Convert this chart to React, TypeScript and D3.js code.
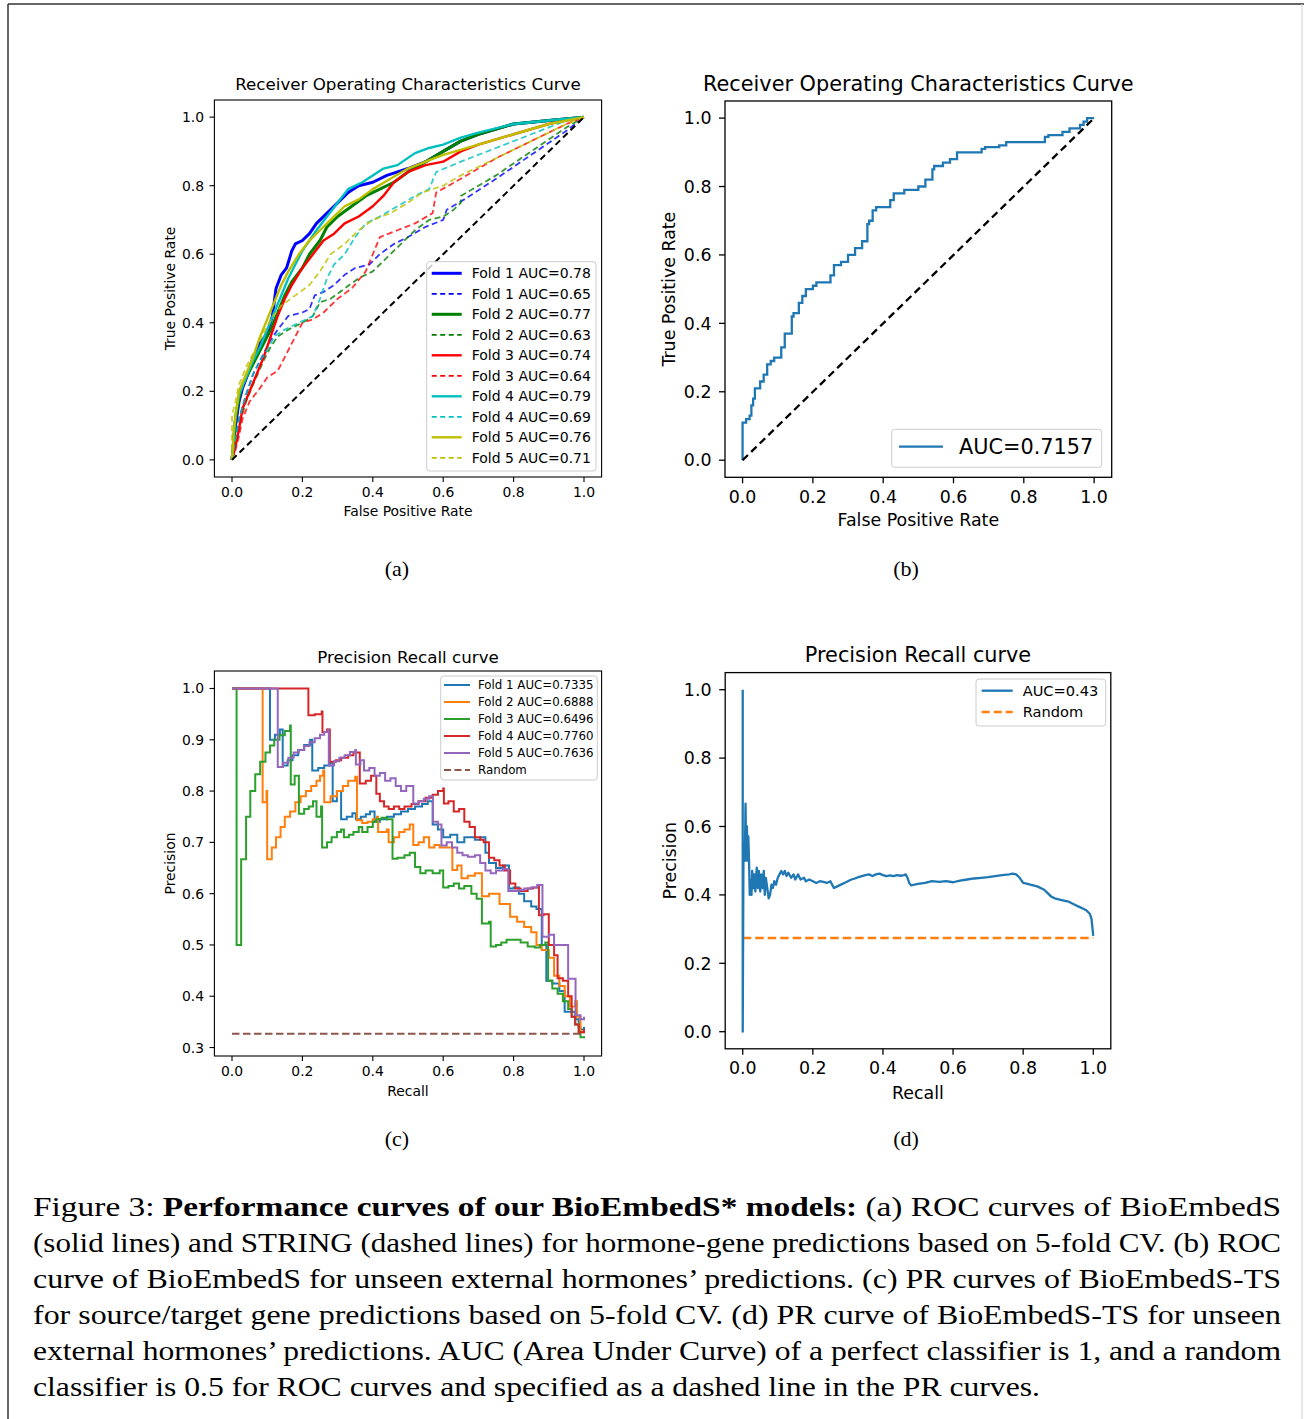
import React from 'react';
import * as d3 from 'd3';

type Pt = [number, number];

const SANS = 'DejaVu Sans, sans-serif';
const SERIF = 'Liberation Serif, serif';

// ---------- (a) ROC, 5-fold CV (solid = BioEmbedS, dashed = STRING) ----------
const rocLabels = [
  'Fold 1 AUC=0.78', 'Fold 1 AUC=0.65', 'Fold 2 AUC=0.77', 'Fold 2 AUC=0.63',
  'Fold 3 AUC=0.74', 'Fold 3 AUC=0.64', 'Fold 4 AUC=0.79', 'Fold 4 AUC=0.69',
  'Fold 5 AUC=0.76', 'Fold 5 AUC=0.71',
];
const rocColors = ['#0000ff', '#0000ff', '#008000', '#008000', '#ff0000', '#ff0000', '#00bfbf', '#00bfbf', '#bfbf00', '#bfbf00'];

const rocF1Solid: Pt[] = [[0,0],[0.005,0.05],[0.01,0.1],[0.02,0.17],[0.03,0.21],[0.045,0.25],[0.06,0.3],[0.08,0.34],[0.1,0.37],[0.115,0.42],[0.125,0.5],[0.14,0.54],[0.155,0.56],[0.17,0.61],[0.18,0.63],[0.2,0.64],[0.22,0.66],[0.24,0.69],[0.27,0.72],[0.3,0.75],[0.33,0.78],[0.36,0.8],[0.4,0.81],[0.44,0.83],[0.5,0.85],[0.55,0.87],[0.6,0.9],[0.65,0.93],[0.7,0.95],[0.8,0.98],[0.9,0.99],[1,1]];
const rocF1Dash: Pt[] = [[0,0],[0.01,0.06],[0.02,0.12],[0.04,0.19],[0.06,0.25],[0.09,0.31],[0.11,0.35],[0.13,0.38],[0.16,0.42],[0.2,0.43],[0.22,0.44],[0.235,0.48],[0.26,0.49],[0.29,0.51],[0.32,0.54],[0.35,0.56],[0.39,0.57],[0.42,0.6],[0.46,0.63],[0.5,0.65],[0.55,0.68],[0.6,0.7],[0.61,0.73],[0.66,0.76],[0.75,0.82],[0.85,0.89],[0.95,0.96],[1,1]];
const rocF2Solid: Pt[] = [[0,0],[0.005,0.06],[0.01,0.12],[0.02,0.18],[0.03,0.22],[0.05,0.26],[0.07,0.3],[0.09,0.34],[0.11,0.38],[0.13,0.43],[0.15,0.48],[0.17,0.52],[0.2,0.56],[0.22,0.6],[0.25,0.64],[0.27,0.68],[0.3,0.71],[0.34,0.74],[0.38,0.77],[0.42,0.79],[0.46,0.81],[0.5,0.84],[0.55,0.87],[0.6,0.9],[0.65,0.93],[0.7,0.95],[0.8,0.98],[0.9,0.99],[1,1]];
const rocF2Dash: Pt[] = [[0,0],[0.01,0.05],[0.02,0.1],[0.04,0.17],[0.06,0.22],[0.09,0.29],[0.11,0.33],[0.13,0.36],[0.16,0.38],[0.2,0.4],[0.23,0.42],[0.25,0.46],[0.28,0.47],[0.32,0.5],[0.36,0.53],[0.4,0.55],[0.44,0.59],[0.48,0.63],[0.52,0.67],[0.56,0.7],[0.6,0.71],[0.63,0.73],[0.65,0.75],[0.65,0.77],[0.75,0.83],[0.85,0.9],[0.95,0.97],[1,1]];
const rocF3Solid: Pt[] = [[0,0],[0.01,0.04],[0.02,0.09],[0.03,0.15],[0.05,0.2],[0.07,0.25],[0.09,0.3],[0.11,0.36],[0.13,0.42],[0.15,0.47],[0.17,0.51],[0.2,0.56],[0.23,0.6],[0.26,0.64],[0.29,0.66],[0.32,0.69],[0.36,0.71],[0.4,0.74],[0.43,0.77],[0.46,0.81],[0.5,0.84],[0.55,0.86],[0.6,0.87],[0.65,0.9],[0.7,0.92],[0.8,0.95],[0.9,0.98],[1,1]];
const rocF3Dash: Pt[] = [[0,0],[0.01,0.03],[0.02,0.07],[0.03,0.12],[0.05,0.17],[0.08,0.21],[0.1,0.24],[0.13,0.26],[0.15,0.3],[0.18,0.36],[0.2,0.4],[0.23,0.41],[0.26,0.43],[0.3,0.47],[0.34,0.5],[0.38,0.55],[0.4,0.6],[0.42,0.65],[0.47,0.67],[0.52,0.69],[0.57,0.72],[0.58,0.78],[0.65,0.82],[0.75,0.88],[0.85,0.93],[0.95,0.98],[1,1]];
const rocF4Solid: Pt[] = [[0,0],[0.005,0.07],[0.01,0.13],[0.02,0.19],[0.04,0.24],[0.06,0.29],[0.08,0.33],[0.1,0.38],[0.12,0.43],[0.14,0.48],[0.16,0.53],[0.18,0.57],[0.2,0.61],[0.22,0.64],[0.24,0.67],[0.27,0.71],[0.3,0.75],[0.33,0.79],[0.37,0.81],[0.4,0.83],[0.43,0.85],[0.47,0.86],[0.52,0.895],[0.56,0.91],[0.6,0.92],[0.65,0.94],[0.7,0.955],[0.8,0.98],[0.9,0.99],[1,1]];
const rocF4Dash: Pt[] = [[0,0],[0.01,0.06],[0.02,0.12],[0.04,0.19],[0.06,0.25],[0.08,0.29],[0.1,0.32],[0.12,0.36],[0.15,0.38],[0.19,0.4],[0.23,0.42],[0.25,0.47],[0.27,0.53],[0.29,0.57],[0.32,0.6],[0.35,0.65],[0.38,0.69],[0.42,0.71],[0.47,0.74],[0.52,0.77],[0.56,0.79],[0.58,0.84],[0.65,0.87],[0.75,0.91],[0.85,0.95],[0.95,0.99],[1,1]];
const rocF5Solid: Pt[] = [[0,0],[0.005,0.08],[0.01,0.13],[0.02,0.2],[0.04,0.25],[0.06,0.3],[0.08,0.36],[0.1,0.41],[0.12,0.46],[0.14,0.51],[0.16,0.55],[0.19,0.6],[0.22,0.64],[0.25,0.67],[0.28,0.7],[0.32,0.74],[0.36,0.76],[0.4,0.79],[0.45,0.82],[0.5,0.85],[0.55,0.87],[0.6,0.89],[0.7,0.92],[0.8,0.95],[0.9,0.98],[1,1]];
const rocF5Dash: Pt[] = [[0,0],[0,0.13],[0.01,0.17],[0.02,0.22],[0.04,0.27],[0.06,0.31],[0.08,0.35],[0.11,0.41],[0.14,0.45],[0.18,0.48],[0.22,0.51],[0.25,0.55],[0.28,0.6],[0.32,0.63],[0.36,0.67],[0.4,0.7],[0.45,0.72],[0.5,0.75],[0.54,0.78],[0.6,0.8],[0.65,0.83],[0.75,0.88],[0.85,0.93],[0.95,0.98],[1,1]];
const rocCurves = [rocF1Solid, rocF1Dash, rocF2Solid, rocF2Dash, rocF3Solid, rocF3Dash, rocF4Solid, rocF4Dash, rocF5Solid, rocF5Dash];

// ---------- (b) ROC, unseen hormones ----------
const rocUnseenLabel = 'AUC=0.7157';
const rocUnseen: Pt[] = [[0,0],[0,0.03],[0.01,0.11],[0.02,0.12],[0.025,0.13],[0.03,0.16],[0.035,0.18],[0.04,0.21],[0.05,0.21],[0.06,0.23],[0.07,0.25],[0.08,0.28],[0.09,0.29],[0.11,0.3],[0.12,0.33],[0.13,0.37],[0.14,0.37],[0.145,0.42],[0.16,0.43],[0.17,0.46],[0.18,0.48],[0.2,0.5],[0.21,0.51],[0.25,0.52],[0.26,0.54],[0.28,0.57],[0.3,0.58],[0.32,0.6],[0.34,0.62],[0.355,0.64],[0.36,0.69],[0.37,0.7],[0.38,0.73],[0.42,0.74],[0.43,0.76],[0.46,0.78],[0.5,0.79],[0.52,0.8],[0.54,0.82],[0.545,0.85],[0.57,0.86],[0.59,0.87],[0.61,0.88],[0.62,0.9],[0.68,0.9],[0.69,0.91],[0.73,0.915],[0.75,0.92],[0.79,0.93],[0.86,0.93],[0.87,0.945],[0.91,0.95],[0.93,0.96],[0.96,0.97],[0.97,0.98],[0.98,0.99],[0.99,1],[1,1]];

// ---------- (c) PR, 5-fold CV ----------
const prLabels = ['Fold 1 AUC=0.7335', 'Fold 2 AUC=0.6888', 'Fold 3 AUC=0.6496', 'Fold 4 AUC=0.7760', 'Fold 5 AUC=0.7636', 'Random'];
const prColors = ['#1f77b4', '#ff7f0e', '#2ca02c', '#d62728', '#9467bd', '#8c564b'];
const prRandomLevel = 0.327;

const prFold1: Pt[] = [[0,1],[0.108,0.9],[0.122,0.91],[0.136,0.92],[0.144,0.85],[0.158,0.86],[0.172,0.87],[0.188,0.88],[0.205,0.89],[0.222,0.9],[0.228,0.84],[0.245,0.845],[0.262,0.85],[0.278,0.855],[0.286,0.78],[0.298,0.8],[0.31,0.745],[0.326,0.75],[0.342,0.757],[0.352,0.745],[0.366,0.75],[0.38,0.755],[0.392,0.76],[0.405,0.74],[0.42,0.745],[0.44,0.75],[0.46,0.755],[0.48,0.76],[0.5,0.765],[0.52,0.77],[0.54,0.775],[0.556,0.78],[0.57,0.735],[0.585,0.725],[0.6,0.71],[0.62,0.715],[0.64,0.7],[0.66,0.71],[0.69,0.705],[0.705,0.71],[0.72,0.68],[0.73,0.66],[0.75,0.65],[0.77,0.655],[0.787,0.61],[0.8,0.612],[0.815,0.6],[0.83,0.585],[0.85,0.575],[0.865,0.57],[0.88,0.5],[0.893,0.43],[0.91,0.425],[0.93,0.41],[0.945,0.37],[0.96,0.37],[0.975,0.355],[0.985,0.34],[0.99,0.335],[1,0.34]];
const prFold2: Pt[] = [[0,1],[0.087,0.778],[0.098,0.8],[0.1,0.667],[0.113,0.69],[0.125,0.71],[0.138,0.73],[0.15,0.75],[0.165,0.76],[0.18,0.778],[0.195,0.79],[0.21,0.8],[0.225,0.81],[0.24,0.82],[0.25,0.83],[0.259,0.84],[0.262,0.778],[0.28,0.79],[0.298,0.8],[0.315,0.81],[0.33,0.82],[0.35,0.828],[0.355,0.743],[0.37,0.738],[0.385,0.74],[0.4,0.745],[0.412,0.75],[0.415,0.72],[0.43,0.72],[0.44,0.725],[0.445,0.7],[0.46,0.71],[0.475,0.72],[0.49,0.725],[0.505,0.735],[0.515,0.695],[0.53,0.7],[0.545,0.71],[0.56,0.69],[0.575,0.695],[0.59,0.69],[0.61,0.69],[0.626,0.646],[0.64,0.655],[0.652,0.63],[0.67,0.635],[0.69,0.64],[0.71,0.595],[0.73,0.6],[0.75,0.6],[0.76,0.58],[0.78,0.58],[0.79,0.555],[0.81,0.545],[0.83,0.535],[0.85,0.525],[0.865,0.5],[0.88,0.49],[0.9,0.475],[0.915,0.44],[0.93,0.42],[0.945,0.4],[0.96,0.38],[0.975,0.39],[0.98,0.36],[0.99,0.33],[1,0.336]];
const prFold3: Pt[] = [[0,1],[0.013,0.5],[0.026,0.667],[0.04,0.75],[0.052,0.8],[0.066,0.833],[0.08,0.857],[0.095,0.875],[0.108,0.889],[0.12,0.9],[0.135,0.909],[0.15,0.917],[0.165,0.928],[0.167,0.813],[0.178,0.83],[0.19,0.756],[0.205,0.765],[0.218,0.77],[0.23,0.78],[0.24,0.75],[0.253,0.77],[0.256,0.69],[0.27,0.7],[0.283,0.71],[0.298,0.72],[0.31,0.725],[0.318,0.71],[0.332,0.715],[0.345,0.72],[0.36,0.73],[0.37,0.72],[0.385,0.73],[0.4,0.74],[0.41,0.745],[0.425,0.748],[0.44,0.745],[0.456,0.668],[0.47,0.67],[0.49,0.675],[0.505,0.68],[0.52,0.652],[0.535,0.64],[0.55,0.645],[0.57,0.64],[0.59,0.645],[0.6,0.612],[0.615,0.615],[0.63,0.62],[0.645,0.61],[0.66,0.615],[0.68,0.6],[0.695,0.59],[0.71,0.542],[0.73,0.545],[0.735,0.497],[0.75,0.5],[0.765,0.505],[0.78,0.51],[0.8,0.51],[0.82,0.505],[0.84,0.497],[0.86,0.495],[0.875,0.5],[0.89,0.505],[0.898,0.43],[0.91,0.415],[0.925,0.405],[0.94,0.39],[0.955,0.375],[0.965,0.36],[0.975,0.345],[0.985,0.33],[0.99,0.32],[1,0.318]];
const prFold4: Pt[] = [[0,1],[0.217,0.948],[0.235,0.95],[0.255,0.955],[0.257,0.915],[0.27,0.92],[0.278,0.857],[0.295,0.86],[0.31,0.865],[0.33,0.87],[0.345,0.875],[0.363,0.815],[0.38,0.82],[0.395,0.83],[0.41,0.795],[0.42,0.78],[0.432,0.77],[0.445,0.765],[0.46,0.77],[0.475,0.765],[0.49,0.77],[0.51,0.775],[0.53,0.78],[0.55,0.787],[0.57,0.793],[0.585,0.8],[0.6,0.805],[0.602,0.776],[0.615,0.78],[0.63,0.76],[0.645,0.765],[0.66,0.74],[0.675,0.73],[0.69,0.71],[0.705,0.705],[0.715,0.7],[0.73,0.67],[0.745,0.665],[0.76,0.655],[0.775,0.645],[0.79,0.62],[0.805,0.61],[0.82,0.605],[0.84,0.61],[0.855,0.612],[0.87,0.615],[0.872,0.558],[0.885,0.56],[0.9,0.5],[0.915,0.48],[0.925,0.435],[0.94,0.43],[0.955,0.4],[0.965,0.36],[0.975,0.345],[0.985,0.33],[1,0.336]];
const prFold5: Pt[] = [[0,1],[0.13,0.847],[0.145,0.855],[0.16,0.865],[0.175,0.875],[0.19,0.88],[0.205,0.888],[0.22,0.895],[0.235,0.903],[0.25,0.91],[0.262,0.915],[0.273,0.92],[0.275,0.85],[0.29,0.858],[0.305,0.865],[0.32,0.87],[0.335,0.876],[0.35,0.88],[0.352,0.852],[0.365,0.86],[0.375,0.84],[0.39,0.845],[0.405,0.83],[0.42,0.835],[0.435,0.82],[0.45,0.825],[0.465,0.81],[0.48,0.8],[0.495,0.81],[0.515,0.776],[0.53,0.78],[0.545,0.785],[0.56,0.79],[0.571,0.74],[0.585,0.735],[0.595,0.694],[0.61,0.7],[0.625,0.69],[0.64,0.68],[0.655,0.675],[0.67,0.672],[0.69,0.675],[0.705,0.66],[0.72,0.645],[0.735,0.64],[0.75,0.645],[0.77,0.648],[0.785,0.605],[0.8,0.605],[0.815,0.607],[0.83,0.61],[0.85,0.612],[0.867,0.617],[0.882,0.516],[0.9,0.52],[0.915,0.5],[0.935,0.5],[0.955,0.434],[0.976,0.363],[0.99,0.355],[1,0.36]];
const prCurves = [prFold1, prFold2, prFold3, prFold4, prFold5];

// ---------- (d) PR, unseen hormones ----------
const prUnseenLabels = ['AUC=0.43', 'Random'];
const prUnseenRandom = 0.274;
const prUnseen: Pt[] = [[0,1],[0,0],[0.002,0.5],[0.006,0.5],[0.008,0.667],[0.01,0.5],[0.012,0.6],[0.014,0.5],[0.016,0.571],[0.018,0.5],[0.02,0.4],[0.022,0.444],[0.025,0.4],[0.027,0.47],[0.03,0.42],[0.033,0.46],[0.036,0.41],[0.04,0.48],[0.043,0.42],[0.046,0.47],[0.05,0.41],[0.053,0.46],[0.057,0.42],[0.06,0.47],[0.063,0.4],[0.066,0.45],[0.07,0.42],[0.074,0.39],[0.078,0.4],[0.082,0.43],[0.086,0.42],[0.09,0.44],[0.095,0.43],[0.1,0.45],[0.105,0.46],[0.11,0.47],[0.115,0.46],[0.12,0.47],[0.125,0.455],[0.13,0.465],[0.138,0.45],[0.145,0.46],[0.15,0.445],[0.158,0.46],[0.165,0.445],[0.175,0.45],[0.18,0.44],[0.19,0.445],[0.2,0.44],[0.21,0.435],[0.22,0.44],[0.23,0.438],[0.24,0.435],[0.25,0.44],[0.255,0.43],[0.26,0.42],[0.27,0.425],[0.28,0.43],[0.29,0.435],[0.3,0.44],[0.31,0.445],[0.32,0.448],[0.33,0.452],[0.34,0.455],[0.35,0.458],[0.36,0.46],[0.37,0.455],[0.38,0.46],[0.39,0.462],[0.4,0.458],[0.41,0.455],[0.42,0.457],[0.43,0.455],[0.44,0.458],[0.45,0.456],[0.46,0.458],[0.465,0.46],[0.47,0.45],[0.475,0.435],[0.48,0.428],[0.5,0.432],[0.52,0.435],[0.54,0.44],[0.56,0.438],[0.58,0.44],[0.6,0.437],[0.62,0.442],[0.64,0.445],[0.66,0.448],[0.68,0.45],[0.7,0.452],[0.72,0.455],[0.74,0.458],[0.76,0.46],[0.77,0.462],[0.78,0.46],[0.79,0.45],[0.8,0.435],[0.81,0.433],[0.82,0.43],[0.84,0.425],[0.86,0.415],[0.87,0.405],[0.88,0.395],[0.89,0.39],[0.91,0.385],[0.93,0.38],[0.94,0.375],[0.95,0.37],[0.96,0.365],[0.97,0.36],[0.98,0.355],[0.99,0.345],[0.995,0.33],[0.998,0.3],[1,0.28]];

const unitTicks = [0, 0.2, 0.4, 0.6, 0.8, 1.0];
const prTicks = [0.3, 0.4, 0.5, 0.6, 0.7, 0.8, 0.9, 1.0];

const captionLines = [
  'Figure 3: ',
  '(solid lines) and STRING (dashed lines) for hormone-gene predictions based on 5-fold CV. (b) ROC',
  'curve of BioEmbedS for unseen external hormones’ predictions.  (c) PR curves of BioEmbedS-TS',
  'for source/target gene predictions based on 5-fold CV. (d) PR curve of BioEmbedS-TS for unseen',
  'external hormones’ predictions. AUC (Area Under Curve) of a perfect classifier is 1, and a random',
  'classifier is 0.5 for ROC curves and specified as a dashed line in the PR curves.',
];
const captionBold = 'Performance curves of our BioEmbedS* models:';
const captionTail = ' (a) ROC curves of BioEmbedS';

type Scale = d3.ScaleLinear<number, number>;
type AxesOpts = {
  id: string; x: Scale; y: Scale; xTicks: number[]; yTicks: number[];
  fs: number; tickLen: number; sw: number;
  title: string; titleFs: number; titleY: number;
  xLabel: string; xLabelY: number; xTickY: number;
  yLabel: string; yLabelX: number; yTickX: number;
};

function Axes({ o, children }: { o: AxesOpts; children: React.ReactNode }) {
  const [x0, x1] = o.x.range();
  const [yb, yt] = o.y.range();
  return (
    <g fontFamily={SANS} fill="#000">
      <defs>
        <clipPath id={o.id}><rect x={x0} y={yt} width={x1 - x0} height={yb - yt} /></clipPath>
      </defs>
      <g clipPath={`url(#${o.id})`}>{children}</g>
      <rect x={x0} y={yt} width={x1 - x0} height={yb - yt} fill="none" stroke="#000" strokeWidth={o.sw} />
      {o.xTicks.map(t => (
        <g key={'x' + t}>
          <line x1={o.x(t)} x2={o.x(t)} y1={yb} y2={yb + o.tickLen} stroke="#000" strokeWidth={o.sw} />
          <text x={o.x(t)} y={o.xTickY} fontSize={o.fs} textAnchor="middle">{t.toFixed(1)}</text>
        </g>
      ))}
      {o.yTicks.map(t => (
        <g key={'y' + t}>
          <line x1={x0 - o.tickLen} x2={x0} y1={o.y(t)} y2={o.y(t)} stroke="#000" strokeWidth={o.sw} />
          <text x={o.yTickX} y={o.y(t)} dy="0.36em" fontSize={o.fs} textAnchor="end">{t.toFixed(1)}</text>
        </g>
      ))}
      <text x={(x0 + x1) / 2} y={o.titleY} fontSize={o.titleFs} textAnchor="middle">{o.title}</text>
      <text x={(x0 + x1) / 2} y={o.xLabelY} fontSize={o.fs} textAnchor="middle">{o.xLabel}</text>
      <text transform={`translate(${o.yLabelX},${(yb + yt) / 2}) rotate(-90)`} fontSize={o.fs} textAnchor="middle">{o.yLabel}</text>
    </g>
  );
}

type LegRow = { label: string; color: string; lw: number; dash?: string };
function Legend({ box, rows, rowY, step, hx, tx, fs }: {
  box: [number, number, number, number]; rows: LegRow[]; rowY: number; step: number;
  hx: [number, number]; tx: number; fs: number;
}) {
  const [bx, by, bx2, by2] = box;
  return (
    <g fontFamily={SANS}>
      <rect x={bx} y={by} width={bx2 - bx} height={by2 - by} rx={3} fill="#fff" fillOpacity={0.8} stroke="#cccccc" strokeWidth={1} />
      {rows.map((r, i) => {
        const cy = rowY + i * step;
        return (
          <g key={i}>
            <line x1={hx[0]} x2={hx[1]} y1={cy} y2={cy} stroke={r.color} strokeWidth={r.lw} strokeDasharray={r.dash} />
            <text x={tx} y={cy} dy="0.36em" fontSize={fs} fill="#000">{r.label}</text>
          </g>
        );
      })}
    </g>
  );
}

export default function App() {
  // ----- panel (a)
  const ax = d3.scaleLinear().domain([-0.05, 1.05]).range([214.4, 601.6]);
  const ay = d3.scaleLinear().domain([-0.05, 1.05]).range([477, 100]);
  const aLine = d3.line<Pt>().x(d => ax(d[0])).y(d => ay(d[1]));
  const aOpts: AxesOpts = {
    id: 'clipA', x: ax, y: ay, xTicks: unitTicks, yTicks: unitTicks, fs: 13.9, tickLen: 4.9, sw: 1.1,
    title: 'Receiver Operating Characteristics Curve', titleFs: 16.7, titleY: 90,
    xLabel: 'False Positive Rate', xLabelY: 516, xTickY: 497,
    yLabel: 'True Positive Rate', yLabelX: 175, yTickX: 204,
  };
  const rocWidth = (i: number) => (i % 2 === 1 ? 1.8 : i < 4 ? 3.0 : 2.4);
  const rocDash = (i: number) => (i % 2 === 1 ? '6,3.5' : undefined);

  // ----- panel (b)
  const bx = d3.scaleLinear().domain([-0.05, 1.05]).range([725, 1111.7]);
  const by = d3.scaleLinear().domain([-0.05, 1.05]).range([477.3, 101]);
  const bLine = d3.line<Pt>().x(d => bx(d[0])).y(d => by(d[1])).curve(d3.curveStepBefore);
  const bDiag = d3.line<Pt>().x(d => bx(d[0])).y(d => by(d[1]));
  const bOpts: AxesOpts = {
    id: 'clipB', x: bx, y: by, xTicks: unitTicks, yTicks: unitTicks, fs: 17.4, tickLen: 6, sw: 1.3,
    title: 'Receiver Operating Characteristics Curve', titleFs: 20.8, titleY: 90.5,
    xLabel: 'False Positive Rate', xLabelY: 526, xTickY: 502.5,
    yLabel: 'True Positive Rate', yLabelX: 675, yTickX: 711.5,
  };

  // ----- panel (c)
  const cx = d3.scaleLinear().domain([-0.05, 1.05]).range([214.4, 601.6]);
  const cy = d3.scaleLinear().domain([0.2835, 1.0341]).range([1056, 671]);
  const cLine = d3.line<Pt>().x(d => cx(d[0])).y(d => cy(d[1])).curve(d3.curveStepAfter);
  const cOpts: AxesOpts = {
    id: 'clipC', x: cx, y: cy, xTicks: unitTicks, yTicks: prTicks, fs: 13.9, tickLen: 4.9, sw: 1.1,
    title: 'Precision Recall curve', titleFs: 16.7, titleY: 663,
    xLabel: 'Recall', xLabelY: 1096, xTickY: 1076,
    yLabel: 'Precision', yLabelX: 175, yTickX: 204,
  };

  // ----- panel (d)
  const dx = d3.scaleLinear().domain([-0.05, 1.05]).range([725.2, 1110.8]);
  const dy = d3.scaleLinear().domain([-0.05, 1.05]).range([1048.8, 672.6]);
  const dLine = d3.line<Pt>().x(d => dx(d[0])).y(d => dy(d[1]));
  const dOpts: AxesOpts = {
    id: 'clipD', x: dx, y: dy, xTicks: unitTicks, yTicks: unitTicks, fs: 17.4, tickLen: 6, sw: 1.3,
    title: 'Precision Recall curve', titleFs: 20.8, titleY: 662,
    xLabel: 'Recall', xLabelY: 1099, xTickY: 1073.5,
    yLabel: 'Precision', yLabelX: 676, yTickX: 711.5,
  };

  const diag: Pt[] = [[0, 0], [1, 1]];

  return (
    <svg width={1306} height={1419} style={{ position: 'absolute', left: 0, top: 0, background: '#fff' }}>
      <rect x={0} y={0} width={1306} height={1419} fill="#fff" />
      {/* page frame */}
      <line x1={8} x2={1304} y1={4} y2={4} stroke="#333" strokeWidth={1.5} />
      <line x1={8} x2={8} y1={4} y2={1419} stroke="#333" strokeWidth={1.5} />
      <line x1={1302} x2={1302} y1={4} y2={1419} stroke="#cfcfcf" strokeWidth={1} />

      {/* (a) */}
      <Axes o={aOpts}>
        {rocCurves.map((c, i) => (
          <path key={i} d={aLine(c) ?? ''} fill="none" stroke={rocColors[i]} strokeOpacity={i % 2 === 1 ? 0.8 : 1}
            strokeWidth={rocWidth(i)} strokeDasharray={rocDash(i)} strokeLinejoin="round" />
        ))}
        <path d={aLine(diag) ?? ''} stroke="#000" strokeWidth={2} strokeDasharray="6.5,4" fill="none" />
      </Axes>
      <Legend box={[426.7, 261.7, 596, 471]} rowY={273.3} step={20.5} hx={[431.7, 461.7]} tx={471.7} fs={14.0}
        rows={rocLabels.map((l, i) => ({ label: l, color: rocColors[i], lw: i % 2 === 1 ? 1.8 : rocWidth(i), dash: i % 2 === 1 ? '5,3.5' : undefined }))} />
      <text x={397} y={576} fontFamily={SERIF} fontSize={22} textAnchor="middle">(a)</text>

      {/* (b) */}
      <Axes o={bOpts}>
        <path d={bLine(rocUnseen) ?? ''} fill="none" stroke="#1f77b4" strokeWidth={2.3} />
        <path d={bDiag(diag) ?? ''} stroke="#000" strokeWidth={2.3} strokeDasharray="7.5,4.5" fill="none" />
      </Axes>
      <Legend box={[891.7, 429.3, 1101.7, 467.3]} rowY={446.7} step={0} hx={[899, 943]} tx={959} fs={20.8}
        rows={[{ label: rocUnseenLabel, color: '#1f77b4', lw: 2.3 }]} />
      <text x={906} y={576} fontFamily={SERIF} fontSize={22} textAnchor="middle">(b)</text>

      {/* (c) */}
      <Axes o={cOpts}>
        {prCurves.map((c, i) => (
          <path key={i} d={cLine(c) ?? ''} fill="none" stroke={prColors[i]} strokeWidth={2} />
        ))}
        <path d={cLine([[0, prRandomLevel], [1, prRandomLevel]]) ?? ''} fill="none" stroke={prColors[5]} strokeWidth={2} strokeDasharray="7.5,3.5" />
      </Axes>
      <Legend box={[440.7, 676, 597.3, 780]} rowY={685} step={17} hx={[444, 470]} tx={478} fs={11.8}
        rows={prLabels.map((l, i) => ({ label: l, color: prColors[i], lw: 2, dash: i === 5 ? '7,3.5' : undefined }))} />
      <text x={397} y={1146} fontFamily={SERIF} fontSize={22} textAnchor="middle">(c)</text>

      {/* (d) */}
      <Axes o={dOpts}>
        <path d={dLine([[0, prUnseenRandom], [1, prUnseenRandom]]) ?? ''} fill="none" stroke="#ff7f0e" strokeWidth={2.3} strokeDasharray="8.5,4" />
        <path d={dLine(prUnseen) ?? ''} fill="none" stroke="#1f77b4" strokeWidth={2.3} strokeLinejoin="round" />
      </Axes>
      <Legend box={[976, 679, 1105.7, 726]} rowY={690.7} step={21.3} hx={[981.7, 1012.7]} tx={1022.7} fs={14.6}
        rows={[{ label: prUnseenLabels[0], color: '#1f77b4', lw: 2.3 }, { label: prUnseenLabels[1], color: '#ff7f0e', lw: 2.3, dash: '8,4' }]} />
      <text x={906} y={1146} fontFamily={SERIF} fontSize={22} textAnchor="middle">(d)</text>

      {/* caption */}
      <g fontFamily={SERIF} fontSize={28} fill="#000">
        <text x={33} y={1216} textLength={1248} lengthAdjust="spacingAndGlyphs">
          {captionLines[0]}<tspan fontWeight="bold">{captionBold}</tspan>{captionTail}
        </text>
        {captionLines.slice(1).map((l, i) => (
          <text key={i} x={33} y={1252 + i * 36} textLength={i < 4 ? 1248 : 1007} lengthAdjust="spacingAndGlyphs">{l}</text>
        ))}
      </g>
    </svg>
  );
}
